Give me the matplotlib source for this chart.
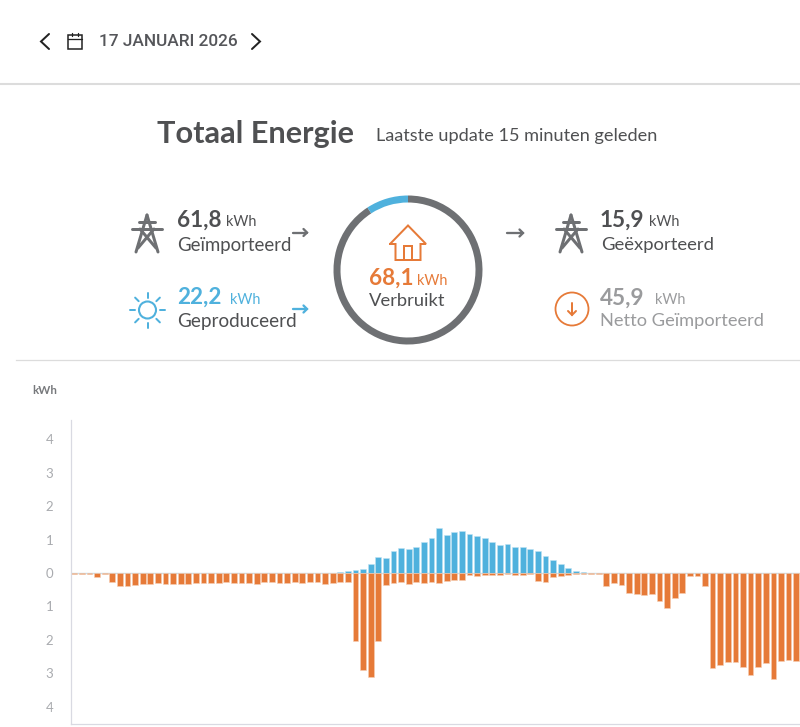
import numpy as np
import matplotlib
matplotlib.use("Agg")
import matplotlib.pyplot as plt
from matplotlib.patches import Wedge, Circle

# kwartierwaarden
verbruik = [0.04, 0.03, 0.04, 0.13, 0.03, 0.27, 0.38, 0.38, 0.37, 0.33, 0.32, 0.30,
            0.33, 0.32, 0.32, 0.32, 0.31, 0.31, 0.31, 0.31, 0.27, 0.30, 0.30, 0.31,
            0.33, 0.27, 0.28, 0.30, 0.30, 0.28, 0.30, 0.28, 0.28, 0.32, 0.30, 0.28,
            0.28, 2.05, 2.90, 3.10, 2.05, 0.36, 0.30, 0.28, 0.33, 0.28, 0.29, 0.28,
            0.29, 0.25, 0.22, 0.20, 0.07, 0.08, 0.06, 0.06, 0.05, 0.03, 0.05, 0.05,
            0.03, 0.25, 0.28, 0.12, 0.08, 0.06, 0.04, 0.03, 0.03, 0.04, 0.39, 0.31,
            0.36, 0.59, 0.63, 0.67, 0.62, 0.85, 1.04, 0.75, 0.61, 0.10, 0.09, 0.38,
            2.85, 2.75, 2.67, 2.67, 2.82, 3.04, 2.80, 2.68, 3.17, 2.64, 2.61, 2.64]
productie = [0] * 35 + [0.03, 0.06, 0.10, 0.13, 0.28, 0.48, 0.46, 0.67, 0.74, 0.72, 0.79,
                        0.92, 1.04, 1.34, 1.15, 1.23, 1.26, 1.17, 1.12, 1.05, 0.93, 0.85,
                        0.86, 0.78, 0.79, 0.72, 0.67, 0.50, 0.40, 0.26, 0.14, 0.06, 0.02,
                        0, 0, 0, 0] + [0] * 24
y_ticks = [4, 3, 2, 1, 0, -1, -2, -3, -4]

ORANJE = "#E67A38"
BLAUW = "#4FB1DD"
DONKER = "#4F5052"
GRIJS = "#6E7073"
LICHT = "#9A9B9D"
LIJN = "#D9DAE2"
FONT = "Lato"

W, H = 800, 727
fig = plt.figure(figsize=(W / 100, H / 100), dpi=100, facecolor="white")

# overlay in pixels voor kop, kengetallen en iconen
ov = fig.add_axes([0, 0, 1, 1])
ov.set_xlim(0, W)
ov.set_ylim(H, 0)
ov.axis("off")


def tekst(x, y, s, size, color=DONKER, weight="normal", ha="left", family=FONT):
    ov.text(x, y, s, fontsize=size * 0.72, color=color, fontweight=weight, ha=ha,
            va="center", family=family)


def lijn(xs, ys, color=GRIJS, lw=1.5):
    ov.plot(xs, ys, color=color, lw=lw * 0.72, solid_capstyle="round", solid_joinstyle="miter")


def mast(cx):
    lw = 3
    lijn([cx, cx - 11], [215, 252], lw=lw)
    lijn([cx, cx + 11], [215, 252], lw=lw)
    lijn([cx - 15, cx + 15], [229, 229], lw=lw)
    lijn([cx - 8, cx + 8], [222, 222], lw=lw)
    lijn([cx - 7, cx + 9], [229, 248], lw=lw)
    lijn([cx + 7, cx - 9], [229, 248], lw=lw)


def pijl(x0, x1, y, color=GRIJS):
    lijn([x0, x1], [y, y], color=color, lw=2.3)
    lijn([x1 - 3.5, x1, x1 - 3.5], [y - 3.5, y, y + 3.5], color=color, lw=2.3)


# bovenbalk
lijn([49, 41, 49], [34, 41.5, 49], color="#222222", lw=2)
lijn([252, 260, 252], [34, 41.5, 49], color="#222222", lw=2)
ov.add_patch(plt.Rectangle((67.5, 34.5), 14.5, 14, fc="none", ec="#222222", lw=1.1))
lijn([67.5, 82], [38.5, 38.5], color="#222222", lw=1.3)
lijn([71.5, 71.5], [32.5, 36], color="#222222", lw=1.3)
lijn([78, 78], [32.5, 36], color="#222222", lw=1.3)
tekst(99, 41, "17 JANUARI 2026", 17.3, color="#55565A", weight="medium", family="Roboto")
ov.plot([0, W], [83.5, 83.5], color="#DCDCDC", lw=1.5)
ov.plot([16, W], [359.5, 359.5], color="#DCDCDC", lw=0.9)

tekst(157, 134, "Totaal Energie", 30.8, weight="bold")
tekst(376, 136, "Laatste update 15 minuten geleden", 18.1)

# kengetallen
mast(147)
tekst(177, 220, "61,8", 22.5, weight="bold")
tekst(226, 222.5, "kWh", 14.5)
tekst(177, 245, "Geïmporteerd", 18.7)
pijl(293, 307, 232.5)

for a in np.arange(0, 360, 45):
    dx, dy = np.cos(np.radians(a)), np.sin(np.radians(a))
    lijn([147.5 + 12.5 * dx, 147.5 + 17.5 * dx], [310 + 12.5 * dy, 310 + 17.5 * dy], color=BLAUW, lw=2)
ov.add_patch(Circle((147.5, 310), 8.5, fc="none", ec=BLAUW, lw=1.5))
tekst(177, 297.5, "22,2", 22.5, color=BLAUW, weight="bold")
tekst(230, 300, "kWh", 14.5, color=BLAUW)
tekst(177, 322, "Geproduceerd", 18.9)
pijl(293, 307, 309, color=BLAUW)

# ring met huis
ov.add_patch(Wedge((408, 270), 74.5, 270, 597, width=7, fc=GRIJS, ec="none"))
ov.add_patch(Wedge((408, 270), 74.5, 237, 270, width=7, fc=BLAUW, ec="none"))
lijn([390, 408, 426, 420.5, 420.5, 395.5, 395.5, 390], [244, 225.5, 244, 244, 260, 260, 244, 244], color=ORANJE, lw=2)
lijn([404, 404, 412, 412], [260, 246, 246, 260], color=ORANJE, lw=2)
tekst(369, 278, "68,1", 22.5, color=ORANJE, weight="bold")
tekst(417, 281, "kWh", 14.5, color=ORANJE)
tekst(407, 301, "Verbruikt", 18.4, ha="center")

pijl(507, 523, 233)
mast(571)
tekst(600, 220, "15,9", 22.5, weight="bold")
tekst(649, 222.5, "kWh", 14.5)
tekst(601, 245, "Geëxporteerd", 18.5)

ov.add_patch(Circle((572, 309), 16.5, fc="none", ec=ORANJE, lw=1.3))
lijn([572, 572], [303, 315], color=ORANJE, lw=2)
lijn([568, 572, 576], [311, 315, 311], color=ORANJE, lw=2)
tekst(600, 298.5, "45,9", 22.5, color=LICHT, weight="bold")
tekst(655, 300.5, "kWh", 14.5, color=LICHT)
tekst(600, 321, "Netto Geïmporteerd", 18.3, color=LICHT)

tekst(32, 391, "kWh", 11.5, color="#77797C", weight="bold")

# staafgrafiek
ax = fig.add_axes([70.5 / W, 1 - 724 / H, (W - 70.5) / W, (724 - 420) / H])
ax.patch.set_alpha(0)
idx = np.arange(len(verbruik))
ax.axhline(0, color="#C9DDE8", lw=1, zorder=1)
ax.bar(idx, productie, width=0.76, color=BLAUW, edgecolor="#BFE2F3", linewidth=0.4, zorder=2)
ax.bar(idx, -np.array(verbruik), width=0.76, color=ORANJE, edgecolor="#F6CFB5", linewidth=0.4, zorder=2)
ax.set_xlim(-0.5, 95.5)
ax.set_ylim(-(724 - 573) / 33.4, (573 - 420) / 33.4)
ax.set_xticks([])
ax.set_yticks(y_ticks)
ax.set_yticklabels([str(abs(v)) for v in y_ticks], fontsize=9.5, color="#A9ABAF", family=FONT)
ax.tick_params(axis="y", length=0, pad=12.5)
for s in ["top", "right"]:
    ax.spines[s].set_visible(False)
for s in ["left", "bottom"]:
    ax.spines[s].set_color(LIJN)
    ax.spines[s].set_linewidth(0.9)

fig.savefig("out.png", dpi=100)
